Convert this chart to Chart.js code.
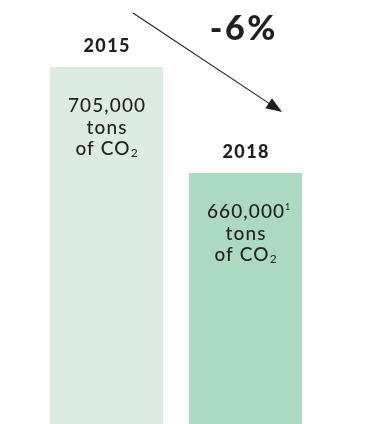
<!DOCTYPE html>
<html>
<head>
<meta charset="utf-8">
<script src="https://cdn.jsdelivr.net/npm/chart.js@4"></script>
<style>
  html, body { margin: 0; padding: 0; background: #fff; }
  #wrap { width: 372px; height: 424px; }
</style>
</head>
<body>
<div id="wrap"><canvas id="co2Chart"></canvas></div>
<script>
// Daten
const years = ['2015', '2018'];
const tons = [705000, 660000];
const footnotes = ['', '1'];
const barColors = ['#dcece2', '#acd9c2'];

const textColor = '#231f20';
const fontFam = 'Lato, "Open Sans", sans-serif';

// Text mit Sperrung, zentriert um x
function spaced(ctx, txt, x, y, font, sp) {
  ctx.font = font;
  ctx.letterSpacing = sp + 'px';
  const w = ctx.measureText(txt).width - sp;
  ctx.textAlign = 'left';
  ctx.fillText(txt, x - w / 2, y);
  return { left: x - w / 2, right: x + w / 2 };
}

// Beschriftungen + Pfeil selbst zeichnen
const labelPlugin = {
  id: 'co2Labels',
  afterDatasetsDraw(chart) {
    const ctx = chart.ctx;
    const bars = chart.getDatasetMeta(0).data;
    ctx.save();
    ctx.fillStyle = textColor;
    ctx.textBaseline = 'alphabetic';

    bars.forEach((bar, i) => {
      // Jahr über dem Balken
      spaced(ctx, years[i], bar.x, bar.y - 15, '900 18px ' + fontFam, 1.4);

      // Text im Balken
      const base = bar.y + 45.5;
      const body = '500 19px ' + fontFam;
      const sp = 1.1;
      const num = tons[i].toLocaleString('en-US');
      const r = spaced(ctx, num, bar.x, base, body, sp);
      if (footnotes[i]) {
        ctx.letterSpacing = '0px';
        ctx.font = '9px ' + fontFam;
        ctx.fillText(footnotes[i], r.right + 1, base - 8);
      }
      spaced(ctx, 'tons', bar.x, base + 21.5, body, sp);

      // "of CO" + tiefgestellte 2
      ctx.font = body;
      ctx.letterSpacing = sp + 'px';
      const wMain = ctx.measureText('of CO').width;
      ctx.font = '12px ' + fontFam;
      ctx.letterSpacing = '0px';
      const wSub = ctx.measureText('2').width;
      const startX = bar.x - (wMain + wSub) / 2;
      ctx.font = body;
      ctx.letterSpacing = sp + 'px';
      ctx.fillText('of CO', startX, base + 43);
      ctx.font = '12px ' + fontFam;
      ctx.letterSpacing = '0px';
      ctx.fillText('2', startX + wMain, base + 45);
    });

    // Pfeil von 2015 nach 2018
    const b1 = bars[0], b2 = bars[1];
    const x0 = b1.x + 26.5, y0 = 13;
    const x1 = b2.x + 36.5, y1 = 112;
    const ang = Math.atan2(y1 - y0, x1 - x0);
    const headLen = 16, headW = 6;
    ctx.strokeStyle = textColor;
    ctx.lineWidth = 1.1;
    ctx.beginPath();
    ctx.moveTo(x0, y0);
    ctx.lineTo(x1 - Math.cos(ang) * headLen * 0.8, y1 - Math.sin(ang) * headLen * 0.8);
    ctx.stroke();
    ctx.beginPath();
    ctx.moveTo(x1, y1);
    ctx.lineTo(x1 - Math.cos(ang) * headLen - Math.sin(ang) * headW,
               y1 - Math.sin(ang) * headLen + Math.cos(ang) * headW);
    ctx.lineTo(x1 - Math.cos(ang) * headLen + Math.sin(ang) * headW,
               y1 - Math.sin(ang) * headLen - Math.cos(ang) * headW);
    ctx.closePath();
    ctx.fill();

    // Veränderung in Prozent
    const pct = Math.round((tons[1] - tons[0]) / tons[0] * 100);
    spaced(ctx, (pct > 0 ? '+' : '') + pct + '%', b2.x - 3, 40, '900 34px ' + fontFam, 2.5);

    ctx.restore();
  }
};

const config = {
  type: 'bar',
  data: {
    labels: years,
    datasets: [{
      data: tons,
      backgroundColor: barColors,
      borderWidth: 0,
      categoryPercentage: 1,
      barPercentage: 0.813
    }]
  },
  options: {
    responsive: true,
    maintainAspectRatio: false,
    animation: false,
    layout: { padding: { left: 37, right: 57, top: 0, bottom: 0 } },
    plugins: {
      legend: { display: false },
      tooltip: { enabled: false }
    },
    scales: {
      x: { display: false },
      y: { display: false, min: 553500, max: 733400 }
    }
  },
  plugins: [labelPlugin]
};

new Chart(document.getElementById('co2Chart'), config);
</script>
</body>
</html>
